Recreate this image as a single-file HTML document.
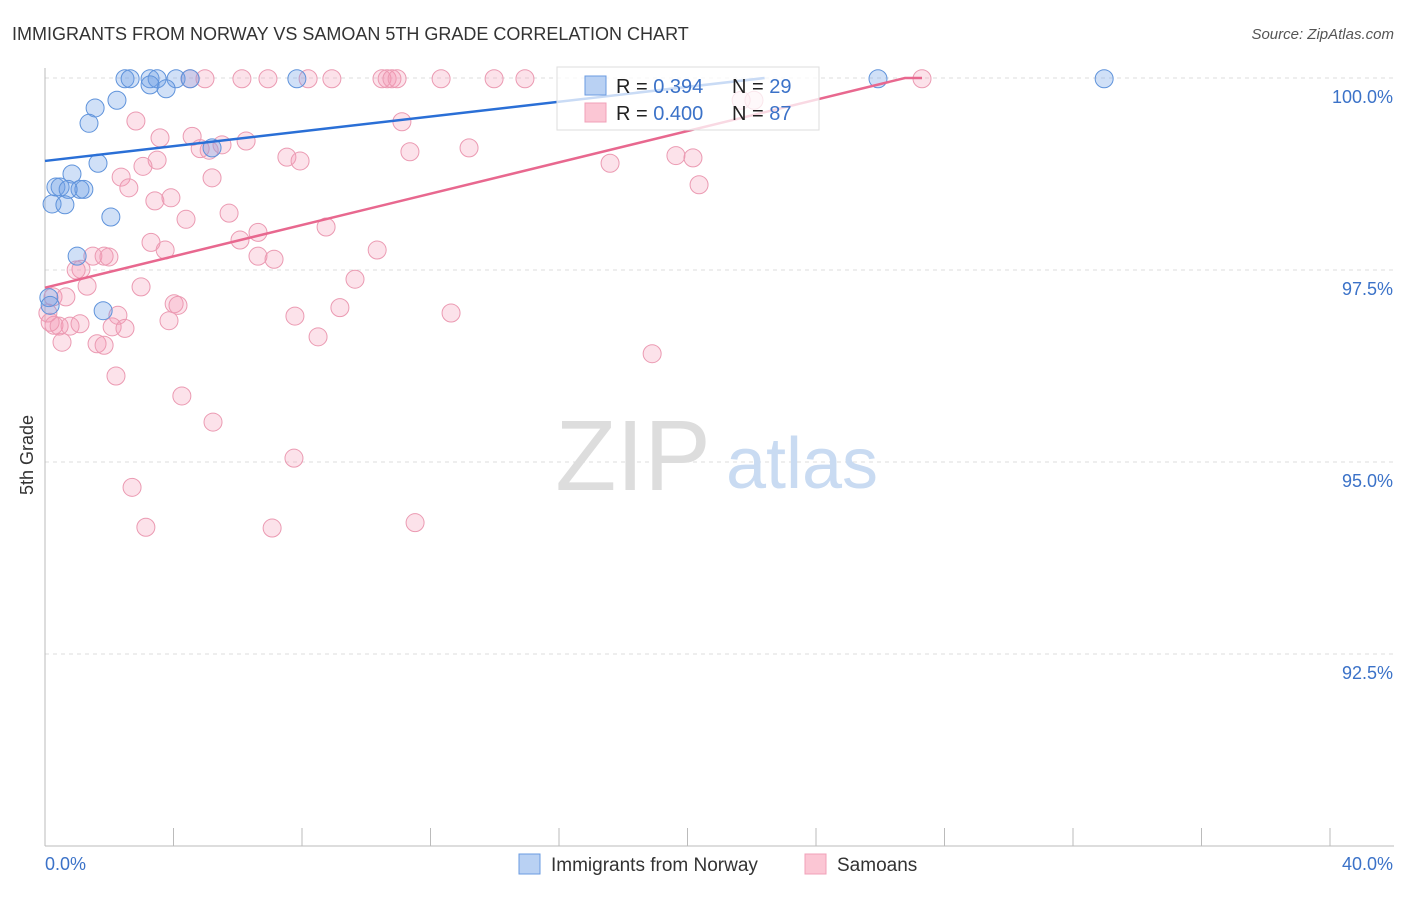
<!DOCTYPE html>
<html><head><meta charset="utf-8"><style>
body{margin:0;background:#fff;font-family:"Liberation Sans",sans-serif;}
svg text{font-family:"Liberation Sans",sans-serif;}
</style></head><body>
<svg id="chart" width="1406" height="892">
<text x="12" y="40" font-size="18" fill="#333">IMMIGRANTS FROM NORWAY VS SAMOAN 5TH GRADE CORRELATION CHART</text>
<text x="1394" y="39" font-size="15" fill="#555" font-style="italic" text-anchor="end">Source: ZipAtlas.com</text>
<g id="grid"></g>
<g>
<text x="633" y="490" font-size="100" fill="#ddd" font-family="Liberation Serif" text-anchor="middle">ZIP</text>
<text x="802" y="488" font-size="72" fill="#c9dbf2" text-anchor="middle">atlas</text>
</g>
<g id="marks"></g>
<text transform="translate(33,455) rotate(-90)" font-size="18" fill="#333" text-anchor="middle">5th Grade</text>
<g>
<rect x="557" y="67" width="262" height="63" fill="rgba(255,255,255,0.75)" stroke="#ddd"/>
<rect x="585" y="76" width="21" height="19" fill="#b9d1f3" stroke="#6a9be0"/>
<rect x="585" y="103" width="21" height="19" fill="#fbc6d4" stroke="#f0a0b8"/>
<text x="616" y="93" font-size="20" fill="#222">R = <tspan fill="#3b72c8">0.394</tspan></text>
<text x="732" y="93" font-size="20" fill="#222">N = <tspan fill="#3b72c8">29</tspan></text>
<text x="616" y="120" font-size="20" fill="#222">R = <tspan fill="#3b72c8">0.400</tspan></text>
<text x="732" y="120" font-size="20" fill="#222">N = <tspan fill="#3b72c8">87</tspan></text>
</g>
<g>
<rect x="519" y="854" width="21" height="20" fill="#b9d1f3" stroke="#6a9be0"/>
<text x="551" y="871" font-size="19" fill="#333">Immigrants from Norway</text>
<rect x="805" y="854" width="21" height="20" fill="#fbc6d4" stroke="#f0a0b8"/>
<text x="837" y="871" font-size="19" fill="#333">Samoans</text>
</g>
</svg>
<script>
const xTicks=[0,4,8,12,16,20,24,28,32,36,40];
const yTicks=[92.5,95.0,97.5,100.0];
const yTickLabels=["92.5%","95.0%","97.5%","100.0%"];
const norwayX=[2.49,2.65,3.27,3.49,4.08,4.52,7.84,25.93,32.97,3.27,3.77,2.24,1.56,1.37,1.65,5.2,0.84,0.34,0.47,1.09,1.21,0.72,0.22,0.62,2.05,1.0,1.81,0.12,0.16];
const norwayY=[99.99,99.99,99.99,99.99,99.99,99.99,99.99,99.99,99.99,99.91,99.86,99.71,99.61,99.41,98.89,99.09,98.75,98.58,98.58,98.55,98.55,98.55,98.36,98.35,98.19,97.68,96.97,97.14,97.04];
const samoanX=[4.51,4.98,6.13,6.94,8.19,8.93,10.49,10.65,10.80,10.96,12.33,13.98,14.94,27.30,
2.83,3.58,4.58,3.49,3.05,4.83,5.11,5.51,6.26,5.20,2.37,2.61,7.53,7.94,3.42,3.92,5.73,4.39,6.63,6.07,3.30,3.74,8.75,6.63,7.13,10.34,9.65,1.49,1.84,1.99,1.12,0.97,1.31,2.99,0.25,0.65,4.02,4.14,7.78,9.18,12.64,0.09,0.28,0.16,0.78,1.09,0.44,2.27,2.09,2.49,3.86,8.50,0.53,1.62,1.84,2.21,4.26,5.23,7.75,2.71,3.14,7.07,11.52,18.90,11.11,11.36,13.20,17.59,19.64,20.17,20.36,21.67,22.07];
const samoanY=[99.99,99.99,99.99,99.99,99.99,99.99,99.99,99.99,99.99,99.99,99.99,99.99,99.99,99.99,
99.44,99.22,99.24,98.93,98.85,99.08,99.06,99.13,99.18,98.70,98.71,98.57,98.97,98.92,98.40,98.44,98.24,98.16,97.99,97.89,97.86,97.76,98.06,97.68,97.64,97.76,97.38,97.68,97.68,97.67,97.51,97.50,97.29,97.28,97.15,97.15,97.06,97.04,96.90,97.01,96.94,96.94,96.78,96.82,96.77,96.80,96.77,96.91,96.76,96.74,96.84,96.63,96.56,96.54,96.52,96.12,95.86,95.52,95.05,94.67,94.15,94.14,94.21,96.41,99.43,99.04,99.09,98.89,98.99,98.96,98.61,99.71,99.71];
const norwayTrend=[[0,98.92],[22.4,100.0]];
const samoanTrend=[[0,97.27],[26.77,100.0],[27.3,100.0]];

const NS="http://www.w3.org/2000/svg";
const X=v=>45+(v/40)*1285;
const Y=v=>78+(100-v)/2.5*192;
function mk(tag,attrs,parent){const e=document.createElementNS(NS,tag);for(const k in attrs)e.setAttribute(k,attrs[k]);parent.appendChild(e);return e;}
const grid=document.getElementById('grid');
const marks=document.getElementById('marks');
yTicks.forEach((t,i)=>{
  const l=mk('line',{x1:45,x2:1394,y1:Y(t),y2:Y(t),stroke:'#ddd','stroke-dasharray':'4,4'},grid);
  
  
  const tx=mk('text',{x:1393,y:Y(t)+25,'font-size':18,fill:'#3b72c8','text-anchor':'end'},grid);
  tx.textContent=yTickLabels[i];
  
  
});
const ya=mk('line',{x1:45,x2:45,y1:68,y2:846,stroke:'#bbb'},grid);


const xa=mk('line',{x1:45,x2:1394,y1:846,y2:846,stroke:'#bbb'},grid);


xTicks.forEach(t=>{
  const l=mk('line',{x1:X(t),x2:X(t),y1:828,y2:846,stroke:'#bbb'},grid);
  
  
});
const xl0=mk('text',{x:45,y:870,'font-size':18,fill:'#3b72c8'},grid);
xl0.textContent='0.0%';


const xl1=mk('text',{x:1393,y:870,'font-size':18,fill:'#3b72c8','text-anchor':'end'},grid);
xl1.textContent='40.0%';



samoanX.forEach((v,i)=>{
  const c=mk('circle',{cx:X(v),cy:Y(samoanY[i]),r:9,fill:'rgba(244,150,178,0.28)',stroke:'#eb9ab2','stroke-width':1},marks);
  
  
});
norwayX.forEach((v,i)=>{
  const c=mk('circle',{cx:X(v),cy:Y(norwayY[i]),r:9,fill:'rgba(110,160,230,0.32)',stroke:'#5f93db','stroke-width':1},marks);
  
  
});
const nt=mk('polyline',{points:norwayTrend.map(p=>X(p[0])+','+Y(p[1])).join(' '),fill:'none',stroke:'#2a6fd6','stroke-width':2.5},marks);


const st=mk('polyline',{points:samoanTrend.map(p=>X(p[0])+','+Y(p[1])).join(' '),fill:'none',stroke:'#e8688f','stroke-width':2.5},marks);


</script>
</body></html>
